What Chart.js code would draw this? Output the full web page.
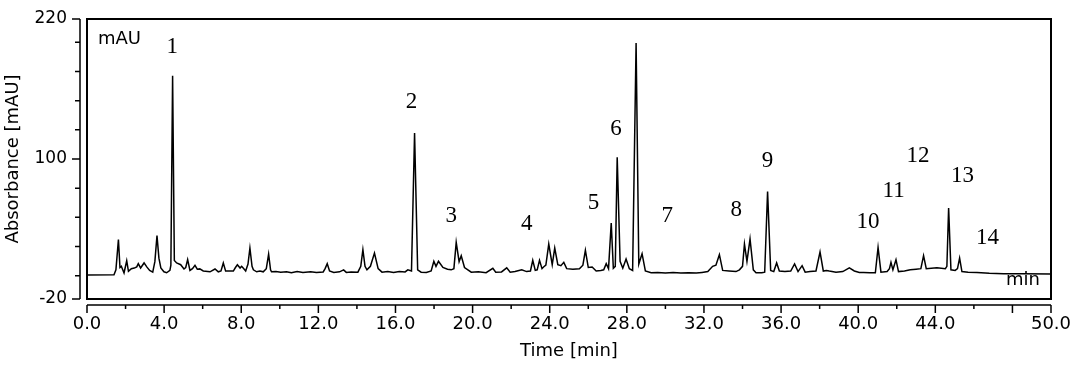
<!DOCTYPE html>
<html>
<head>
<meta charset="utf-8">
<title>Chromatogram</title>
<script src="https://cdn.jsdelivr.net/npm/chart.js@4.4.1/dist/chart.umd.min.js"></script>
<style>
  html, body { margin: 0; padding: 0; background: #fff; }
  #wrap { width: 1080px; height: 368px; position: relative; }
</style>
</head>
<body>
<div id="wrap"><canvas id="chrom"></canvas></div>
<script>
// retention time [min] and signal [mAU]
const times = [
  0.00, 1.40, 1.50, 1.63, 1.71, 1.78, 1.92, 2.06, 2.15, 2.30, 2.45, 2.58, 2.66, 2.78, 2.96, 3.10,
  3.25, 3.41, 3.52, 3.63, 3.73, 3.83, 3.99, 4.13, 4.30, 4.35, 4.44, 4.53, 4.65, 4.86, 5.03, 5.12,
  5.22, 5.34, 5.47, 5.60, 5.72, 5.85, 6.03, 6.38, 6.64, 6.81, 6.95, 7.07, 7.19, 7.59, 7.70, 7.80,
  7.94, 8.02, 8.10, 8.23, 8.35, 8.45, 8.56, 8.63, 8.80, 8.97, 9.14, 9.30, 9.42, 9.52, 9.57, 9.80,
  10.05, 10.35, 10.60, 10.90, 11.20, 11.60, 11.90, 12.25, 12.35, 12.46, 12.58, 12.80, 13.10, 13.31,
  13.45, 13.70, 14.05, 14.20, 14.31, 14.42, 14.52, 14.70, 14.91, 15.10, 15.30, 15.60, 15.90, 16.20,
  16.50, 16.64, 16.83, 16.99, 17.15, 17.33, 17.60, 17.85, 17.99, 18.10, 18.23, 18.46, 18.70, 18.89,
  19.03, 19.15, 19.30, 19.41, 19.58, 19.93, 20.30, 20.70, 21.05, 21.20, 21.50, 21.77, 21.95, 22.20,
  22.55, 22.80, 23.00, 23.12, 23.25, 23.35, 23.47, 23.60, 23.68, 23.80, 23.95, 24.13, 24.26, 24.42,
  24.58, 24.73, 24.88, 25.20, 25.54, 25.72, 25.85, 26.00, 26.20, 26.41, 26.65, 26.80, 26.93, 27.05,
  27.19, 27.30, 27.40, 27.50, 27.65, 27.79, 27.96, 28.13, 28.30, 28.48, 28.62, 28.79, 28.96, 29.26,
  29.60, 30.00, 30.40, 30.80, 31.20, 31.60, 31.90, 32.20, 32.45, 32.62, 32.80, 32.97, 33.30, 33.66,
  33.84, 34.00, 34.10, 34.23, 34.39, 34.56, 34.70, 35.00, 35.15, 35.30, 35.46, 35.62, 35.77, 35.91,
  36.20, 36.50, 36.70, 36.88, 37.09, 37.25, 37.50, 37.81, 38.02, 38.19, 38.35, 38.50, 38.85, 39.20,
  39.54, 39.80, 40.06, 40.28, 40.60, 40.89, 41.03, 41.18, 41.50, 41.62, 41.70, 41.80, 41.96, 42.09,
  42.40, 42.70, 43.00, 43.25, 43.39, 43.53, 44.08, 44.52, 44.60, 44.69, 44.81, 45.03, 45.15, 45.26,
  45.38, 45.70, 46.16, 46.80, 47.54, 48.50, 50.00
];
const absorbance = [
  0.6, 0.8, 5, 31, 7, 8, 2.3, 12.8, 3.7, 6, 6.5, 7.5, 10.3, 6.6, 10.9, 7.5,
  4.5, 3.1, 12, 34.3, 15, 6.6, 3.3, 2.5, 4.5, 9, 171.4, 13, 10.9, 9.4, 5.7, 7,
  13.7, 4.5, 6, 8.8, 5.5, 5.8, 4, 3.3, 5.7, 3.3, 4, 10.9, 3.9, 3.9, 7, 9.4,
  6.5, 8, 6.5, 4, 10, 23.7, 8, 5, 3.3, 4, 3.3, 6, 18.5, 5, 3.3, 3.5,
  3, 3.3, 2.5, 3.5, 2.8, 3.4, 2.7, 3.2, 6, 10.3, 4, 2.8, 3.3, 5,
  2.8, 3.2, 3, 8, 22.3, 8, 5, 8, 19.4, 6, 3, 3.6, 2.8, 3.6,
  3.2, 5, 4, 122.3, 5, 3, 2.8, 4, 12.3, 8, 12.3, 7, 5.5, 5,
  6, 28.5, 12, 17.1, 7, 3, 3.4, 2.6, 6.3, 3, 3.2, 6.7, 3, 3.5,
  5, 3.5, 4, 13.1, 4.5, 5, 13.1, 6, 7.4, 9, 27.1, 9.4, 23.7, 9.4,
  8.5, 11.4, 6, 5.5, 6, 9, 21.7, 7, 7.4, 4, 4.5, 5, 10.3, 6,
  45.1, 6.4, 8, 101.4, 12.3, 6.4, 14.3, 6, 4.5, 199.4, 10, 18.8, 4, 2.5,
  2.8, 2.3, 2.8, 2.2, 2.6, 2.2, 2.8, 3.5, 8, 9, 18, 4.5, 4, 3.5,
  5, 8, 27.1, 12.3, 31.4, 5, 2.5, 2.5, 3, 72.2, 4.5, 3.5, 10.9, 4,
  3.5, 4, 10, 3.5, 8.6, 3, 3.5, 4, 20.3, 4, 4.5, 4, 3, 3.5,
  6.6, 4, 2.8, 2.8, 2.5, 2.5, 24.2, 3, 3.5, 6, 11.4, 5, 13.7, 3.5,
  4, 5, 5.5, 6, 17.1, 6, 6.7, 6, 8, 58, 5, 4.5, 6, 15,
  3.5, 3, 2.8, 2, 1.7, 1.6, 1.5
];

// peak numbering written above the trace
const peakNumbers = ['1', '2', '3', '4', '5', '6', '7', '8', '9', '10', '11', '12', '13', '14'];
const peakLabelTimes = [4.42, 16.83, 18.89, 22.81, 26.27, 27.44, 30.10, 33.67, 35.30, 40.51, 41.84, 43.10, 45.41, 46.71];
const peakLabelLevels = [195.7, 149.1, 50.8, 44.3, 62.3, 125.7, 51.4, 56.5, 98.0, 45.7, 72.8, 102.8, 85.1, 32.3];

// axis ticks
const yTicks = [-20, 0, 25, 50, 75, 100, 125, 150, 175, 200, 220];
const yLabelled = [-20, 100, 220];
const xLabelled = [0, 4, 8, 12, 16, 20, 24, 28, 32, 36, 40, 44, 50];

const sans = 'DejaVu Sans';

// box round the plot, axes set off from it, labels
const frame = {
  id: 'frame',
  afterDraw(chart) {
    const { ctx, chartArea: a, scales: { x, y } } = chart;
    ctx.save();
    ctx.strokeStyle = '#000';
    ctx.lineWidth = 2;
    ctx.strokeRect(a.left, a.top, a.right - a.left, a.bottom - a.top);

    ctx.lineWidth = 1.5;
    ctx.beginPath();
    const ax = a.left - 7;
    ctx.moveTo(ax, a.top);
    ctx.lineTo(ax, a.bottom);
    y.ticks.forEach(t => {
      const py = y.getPixelForValue(t.value);
      const len = yLabelled.includes(t.value) ? 8 : 5;
      ctx.moveTo(ax - len, py);
      ctx.lineTo(ax, py);
    });
    const ay = a.bottom + 6;
    ctx.moveTo(a.left, ay);
    ctx.lineTo(a.right, ay);
    x.ticks.forEach(t => {
      const px = x.getPixelForValue(t.value);
      const len = (t.value % 4 === 0 || t.value === 50) ? 8 : 4;
      ctx.moveTo(px, ay);
      ctx.lineTo(px, ay + len);
    });
    ctx.stroke();

    ctx.fillStyle = '#000';
    ctx.font = '18px "' + sans + '"';
    ctx.textBaseline = 'middle';
    ctx.textAlign = 'left';
    ctx.fillText('mAU', a.left + 11, a.top + 20);
    ctx.textAlign = 'center';
    ctx.fillText('min', a.right - 28, a.bottom - 19);

    ctx.font = '23px "Liberation Serif"';
    peakNumbers.forEach((n, i) => {
      ctx.fillText(n, x.getPixelForValue(peakLabelTimes[i]), y.getPixelForValue(peakLabelLevels[i]));
    });
    ctx.restore();
  }
};

const ctx = document.getElementById('chrom').getContext('2d');
const chromChart = new Chart(ctx, {
  type: 'line',
  data: {
    datasets: [{
      data: times.map((t, i) => ({ x: t, y: absorbance[i] })),
      borderColor: '#000',
      borderWidth: 1.5,
      pointRadius: 0,
      tension: 0,
      fill: false
    }]
  },
  options: {
    responsive: true,
    maintainAspectRatio: false,
    animation: false,
    layout: { padding: { left: 0, right: 29, top: 19, bottom: 0 } },
    plugins: { legend: { display: false }, tooltip: { enabled: false } },
    scales: {
      x: {
        type: 'linear',
        min: 0,
        max: 50,
        grid: { display: false, drawTicks: false },
        border: { display: false },
        ticks: {
          stepSize: 2,
          autoSkip: false,
          maxRotation: 0,
          padding: 15,
          color: '#000',
          font: { family: sans, size: 18 },
          callback: v => xLabelled.includes(v) ? v.toFixed(1) : ''
        },
        title: {
          display: true,
          text: 'Time [min]',
          color: '#000',
          font: { family: sans, size: 18 },
          padding: { top: 0, bottom: 6 }
        },
        afterFit: s => {
          s.height = 69;
          s.paddingLeft = 0;
          s.paddingRight = 0;
        }
      },
      y: {
        min: -20,
        max: 220,
        grid: { display: false, drawTicks: false },
        border: { display: false },
        afterBuildTicks: s => { s.ticks = yTicks.map(v => ({ value: v })); },
        ticks: {
          autoSkip: false,
          padding: 20,
          color: '#000',
          font: { family: sans, size: 17 },
          callback: v => yLabelled.includes(v) ? String(v) : ''
        },
        title: {
          display: true,
          text: 'Absorbance [mAU]',
          color: '#000',
          font: { family: sans, size: 18 },
          padding: { top: 3, bottom: 0 }
        },
        afterFit: s => {
          s.width = 87;
          s.paddingTop = 0;
          s.paddingBottom = 0;
        }
      }
    }
  },
  plugins: [frame]
});
</script>
</body>
</html>
